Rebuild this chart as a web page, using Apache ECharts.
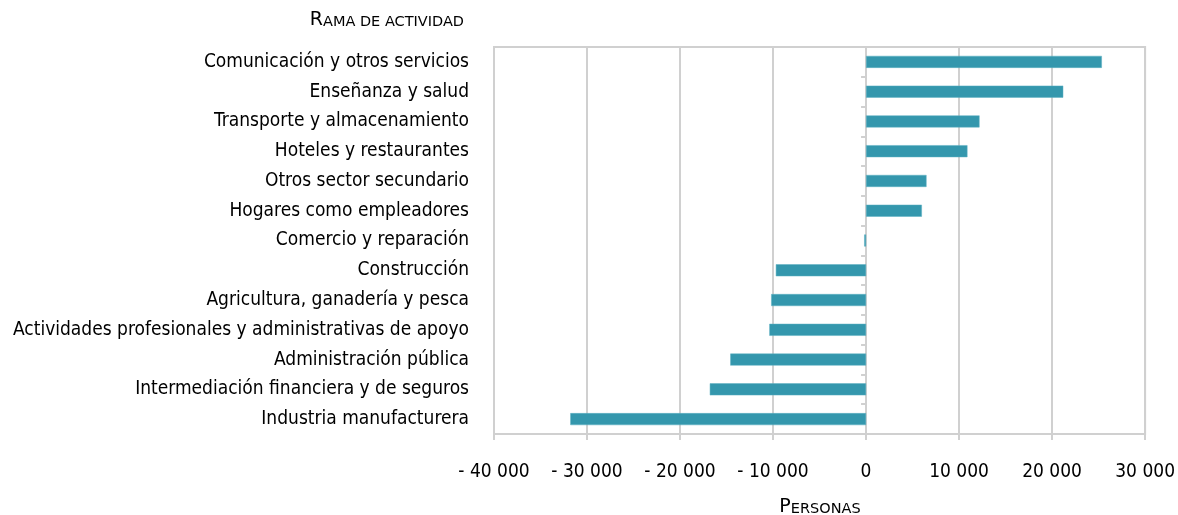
<!DOCTYPE html>
<html>
<head>
<meta charset="utf-8">
<script src="https://cdn.jsdelivr.net/npm/echarts@6/dist/echarts.min.js"></script>
<style>
html,body{margin:0;padding:0;background:#fff;}
#chart{width:1178px;height:515px;}
</style>
</head>
<body>
<div id="chart"></div>
<script>
const categories = [
  "Comunicación y otros servicios",
  "Enseñanza y salud",
  "Transporte y almacenamiento",
  "Hoteles y restaurantes",
  "Otros sector secundario",
  "Hogares como empleadores",
  "Comercio y reparación",
  "Construcción",
  "Agricultura, ganadería y pesca",
  "Actividades profesionales y administrativas de apoyo",
  "Administración pública",
  "Intermediación financiera y de seguros",
  "Industria manufacturera"
];
const values = [25350, 21200, 12200, 10900, 6500, 6000, -200, -9700, -10200, -10400, -14600, -16800, -31800];
const xTicks = { min: -40000, max: 30000, interval: 10000 };
const yTitle = "Rama de actividad";
const xTitle = "Personas";

const FONT = "'Liberation Sans Narrow', 'DejaVu Sans Condensed', sans-serif";
const TFONT = "'DejaVu Sans', sans-serif";
const gridColor = '#d0d0d0';

function fmt(v) {
  const a = Math.abs(v);
  let s = a >= 1000 ? Math.floor(a / 1000) + ' ' + String(a % 1000).padStart(3, '0') : String(a);
  return v < 0 ? '- ' + s : s;
}
function smallCaps(t) {
  return '{b|' + t[0].toUpperCase() + '}{s|' + t.slice(1).toUpperCase() + '}';
}
const scRich = {
  b: { fontFamily: TFONT, fontSize: 19, color: '#000', verticalAlign: 'bottom' },
  s: { fontFamily: TFONT, fontSize: 14.5, color: '#000', verticalAlign: 'bottom' }
};

const chart = echarts.init(document.getElementById('chart'), null, { renderer: 'canvas' });
chart.setOption({
  animation: false,
  grid: { left: 494, right: 30, top: 47, bottom: 81, show: true, borderColor: gridColor, borderWidth: 2, containLabel: false },
  xAxis: {
    type: 'value', min: xTicks.min, max: xTicks.max, interval: xTicks.interval,
    axisLine: { show: false },
    axisTick: { show: true, length: 6, lineStyle: { color: gridColor, width: 2 } },
    splitLine: { show: true, lineStyle: { color: gridColor, width: 2 } },
    axisLabel: { formatter: fmt, margin: 29, fontFamily: FONT, fontSize: 19, color: '#000' }
  },
  yAxis: [
    {
      type: 'category', data: categories, inverse: true, position: 'left',
      axisLine: { show: false, onZero: false }, axisTick: { show: false }, splitLine: { show: false },
      axisLabel: { margin: 25, fontFamily: FONT, fontSize: 19, color: '#000' }
    },
    {
      type: 'category', data: categories, inverse: true, position: 'left',
      axisLine: { show: true, onZero: true, onZeroAxisIndex: 0, lineStyle: { color: gridColor, width: 2 } },
      axisTick: { show: true, length: 5, inside: false, lineStyle: { color: gridColor, width: 2 } },
      axisLabel: { show: false }, splitLine: { show: false }
    }
  ],
  series: [{
    type: 'bar', data: values, yAxisIndex: 0, barWidth: 12,
    itemStyle: { color: '#3497ad', borderColor: '#5db0c2', borderWidth: 0.5 }
  }],
  graphic: [
    { type: 'text', x: 464, y: 11, style: { text: smallCaps(yTitle), rich: scRich, align: 'right' } },
    { type: 'text', x: 820, y: 498, style: { text: smallCaps(xTitle), rich: scRich, align: 'center' } }
  ]
});
</script>
</body>
</html>
